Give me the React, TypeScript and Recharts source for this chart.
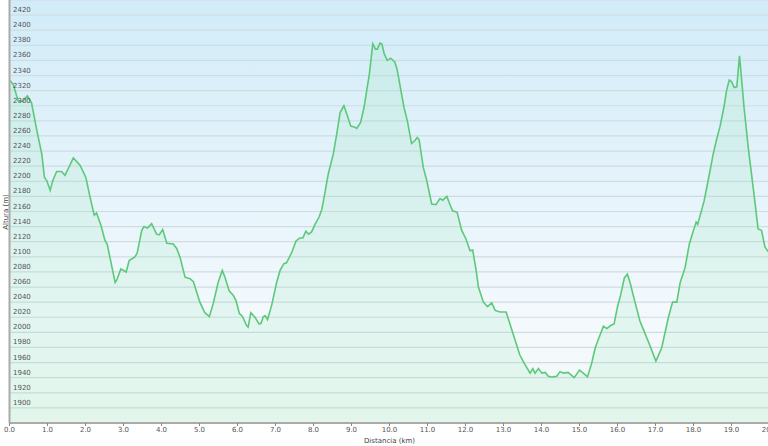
import React from "react";
import {
  AreaChart,
  Area,
  XAxis,
  YAxis,
  CartesianGrid,
  Label,
} from "recharts";

// elevation profile
const distKm = [
  0.0, 0.1, 0.23, 0.35, 0.47, 0.58, 0.72, 0.85, 0.92, 0.98,
  1.07, 1.14, 1.24, 1.37, 1.46, 1.68, 1.86, 2.01, 2.12, 2.23,
  2.29, 2.41, 2.51, 2.57, 2.78, 2.82, 2.93, 3.07, 3.15, 3.3,
  3.36, 3.48, 3.54, 3.63, 3.74, 3.87, 3.94, 4.03, 4.14, 4.31,
  4.4, 4.49, 4.53, 4.62, 4.75, 4.84, 5.01, 5.14, 5.26, 5.36,
  5.49, 5.6, 5.67, 5.78, 5.89, 5.96, 6.05, 6.13, 6.24, 6.28,
  6.35, 6.46, 6.57, 6.62, 6.68, 6.73, 6.79, 6.9, 7.03, 7.12,
  7.22, 7.29, 7.43, 7.54, 7.64, 7.72, 7.8, 7.87, 7.95, 8.04,
  8.15, 8.22, 8.28, 8.39, 8.52, 8.61, 8.7, 8.8, 8.89, 8.98,
  9.07, 9.14, 9.24, 9.33, 9.4, 9.47, 9.56, 9.63, 9.68, 9.75,
  9.8, 9.86, 9.94, 10.03, 10.14, 10.2, 10.28, 10.38, 10.47, 10.58,
  10.67, 10.73, 10.78, 10.89, 10.98, 11.11, 11.22, 11.33, 11.4, 11.51,
  11.57, 11.66, 11.78, 11.9, 12.01, 12.12, 12.19, 12.28, 12.34, 12.47,
  12.58, 12.69, 12.78, 12.91, 13.07, 13.22, 13.43, 13.57, 13.7, 13.77,
  13.83, 13.92, 14.01, 14.1, 14.18, 14.27, 14.4, 14.49, 14.58, 14.7,
  14.86, 15.0, 15.1, 15.21, 15.32, 15.41, 15.49, 15.63, 15.72, 15.82,
  15.91, 16.0, 16.08, 16.18, 16.26, 16.33, 16.46, 16.59, 16.72, 16.85,
  17.01, 17.16, 17.34, 17.45, 17.56, 17.65, 17.78, 17.89, 18.0, 18.07,
  18.11, 18.28, 18.42, 18.51, 18.61, 18.7, 18.8, 18.87, 18.94, 19.0,
  19.07, 19.14, 19.21, 19.27, 19.33, 19.44, 19.57, 19.7, 19.79, 19.88,
  19.95, 20.0,
];

const altitudeM = [
  2334, 2328, 2306, 2306, 2313, 2304, 2267, 2236, 2205, 2201,
  2188, 2201, 2213, 2213, 2208, 2231, 2221, 2205, 2179, 2155,
  2158, 2141, 2122, 2117, 2066, 2069, 2084, 2080, 2095, 2100,
  2105, 2135, 2140, 2138, 2144, 2130, 2129, 2136, 2118, 2117,
  2111, 2099, 2091, 2073, 2071, 2067, 2040, 2026, 2021, 2038,
  2066, 2082, 2073, 2055, 2049, 2042, 2025, 2021, 2009, 2007,
  2026, 2020, 2011, 2012, 2021, 2022, 2017, 2036, 2066, 2082,
  2091, 2092, 2106, 2121, 2125, 2125, 2134, 2130, 2133, 2143,
  2153, 2163, 2179, 2210, 2236, 2262, 2291, 2300, 2287, 2273,
  2272, 2270, 2278, 2298, 2320, 2342, 2382, 2375, 2375, 2383,
  2382, 2369, 2360, 2363, 2358, 2348, 2326, 2298, 2280, 2250,
  2254, 2258, 2255, 2218, 2201, 2170, 2169, 2177, 2175, 2180,
  2172, 2161, 2159, 2135, 2124, 2108, 2109, 2082, 2060, 2040,
  2034, 2039, 2029, 2027, 2027, 2003, 1970, 1957, 1946, 1952,
  1946, 1952, 1946, 1947, 1942, 1941, 1942, 1948, 1946, 1947,
  1940, 1950, 1946, 1941, 1959, 1979, 1990, 2008, 2005, 2009,
  2011, 2034, 2049, 2072, 2077, 2066, 2040, 2015, 1999, 1983,
  1962, 1979, 2020, 2040, 2040, 2066, 2086, 2117, 2135, 2146,
  2143, 2174, 2210, 2234, 2256, 2273, 2298, 2320, 2334, 2332,
  2324, 2325, 2366, 2333, 2298, 2245, 2192, 2137, 2135, 2113,
  2108, 2105,
];

const xTicks = [0, 1, 2, 3, 4, 5, 6, 7, 8, 9, 10, 11, 12, 13, 14, 15, 16, 17, 18, 19, 20];
const yTicks = [
  1900, 1920, 1940, 1960, 1980, 2000, 2020, 2040, 2060, 2080, 2100, 2120, 2140,
  2160, 2180, 2200, 2220, 2240, 2260, 2280, 2300, 2320, 2340, 2360, 2380, 2400, 2420,
];

const data = distKm.map((d, i) => ({ dist: d, alt: altitudeM[i] }));

const renderYTick = (props: any) => {
  const { x, y, payload } = props;
  return (
    <text x={x} y={y - 3} fontSize={7} fill="#555" textAnchor="start" fontFamily="DejaVu Sans">
      {payload.value}
    </text>
  );
};

export default function App() {
  return (
    <div style={{ position: "absolute", left: 0, top: 0, width: 768, height: 446, overflow: "hidden", background: "#fff" }}>
      <AreaChart
        width={770}
        height={446}
        data={data}
        margin={{ top: 0, right: 0.5, bottom: 0, left: 9.5 }}
      >
        <defs>
          <linearGradient id="bgGrad" x1="0" y1="0" x2="0" y2="1">
            <stop offset="0%" stopColor="#d1ecf8" />
            <stop offset="75%" stopColor="#f4f9fd" />
            <stop offset="100%" stopColor="#f3faf8" />
          </linearGradient>
        </defs>
        <CartesianGrid
          vertical={false}
          stroke="#cfdde2"
          strokeWidth={1.2}
          fill="url(#bgGrad)"
          fillOpacity={1}
        />
        <XAxis
          dataKey="dist"
          type="number"
          domain={[0, 20]}
          ticks={xTicks}
          interval={0}
          tickFormatter={(v: number) => v.toFixed(1)}
          height={23}
          tickSize={3}
          tickMargin={1}
          tick={{ fontSize: 7, fill: "#555", fontFamily: "DejaVu Sans" }}
          tickLine={{ stroke: "#888" }}
          axisLine={{ stroke: "#aaa", strokeWidth: 2 }}
        >
          <Label
            value="Distancia  (km)"
            position="insideBottom"
            offset={3}
            style={{ fontSize: 7, fill: "#444", fontFamily: "DejaVu Sans" }}
          />
        </XAxis>
        <YAxis
          type="number"
          domain={[1880, 2440]}
          ticks={yTicks}
          interval={0}
          mirror
          width={30}
          tickSize={0}
          tickMargin={3.5}
          tickLine={false}
          tick={renderYTick}
          axisLine={{ stroke: "#aaa", strokeWidth: 2 }}
        />
        <Area
          type="linear"
          dataKey="alt"
          stroke="#5cc97a"
          strokeWidth={1.6}
          fill="#7fe0a0"
          fillOpacity={0.14}
          dot={false}
          activeDot={false}
          isAnimationActive={false}
        />
      </AreaChart>
      <div
        style={{
          position: "absolute",
          left: 6,
          top: 212,
          transform: "translate(-50%, -50%) rotate(-90deg)",
          fontSize: 7,
          color: "#444",
          fontFamily: "DejaVu Sans",
          whiteSpace: "nowrap",
          lineHeight: 1,
        }}
      >
        Altura (m)
      </div>
    </div>
  );
}
